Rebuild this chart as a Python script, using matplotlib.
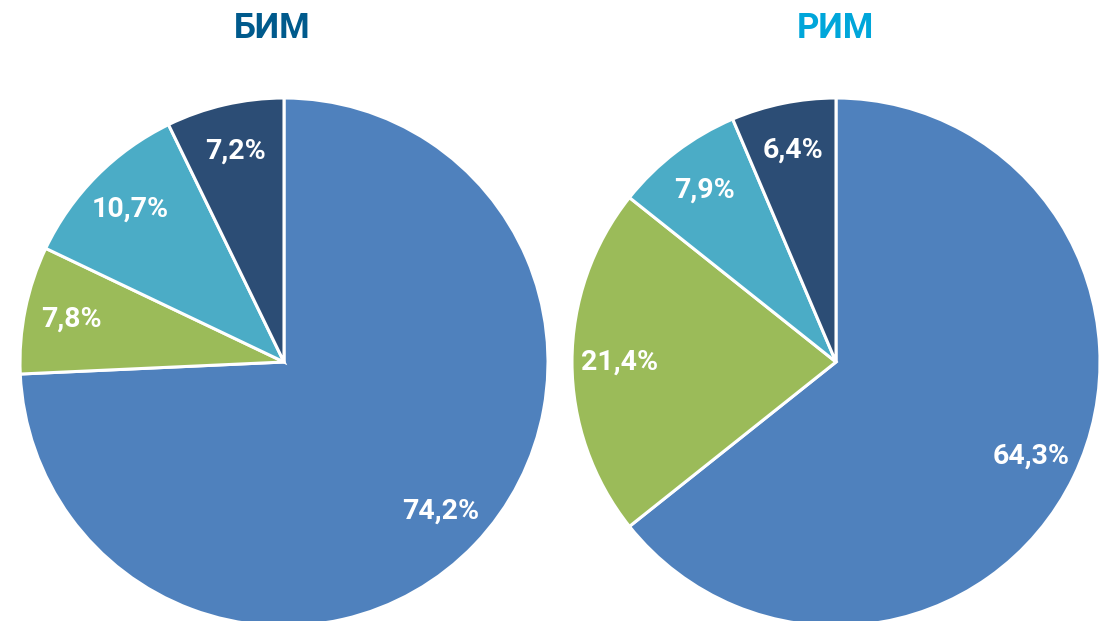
import matplotlib
matplotlib.use('Agg')
import matplotlib.pyplot as plt

# shares, clockwise from 12 o'clock
titles = ['БИМ', 'РИМ']
title_colors = ['#005A8C', '#00A6DA']
bim_values = [74.2, 7.8, 10.7, 7.2]
rim_values = [64.3, 21.4, 7.9, 6.4]
slice_colors = ['#4F81BD', '#9BBB59', '#4BACC6', '#2C4D75']

W, H = 1101, 621
fig = plt.figure(figsize=(W / 100, H / 100), dpi=100)

R = 264
centers = [(284, 362), (836, 362)]
title_x = [272, 835]

for vals, (cx, cy), t, tc, tx in zip([bim_values, rim_values], centers, titles, title_colors, title_x):
    ax = fig.add_axes([(cx - R) / W, (H - cy - R) / H, 2 * R / W, 2 * R / H])
    labels = iter(f'{v:.1f}%'.replace('.', ',') for v in vals)
    wedges, _, autotexts = ax.pie(
        vals, colors=slice_colors, startangle=90, counterclock=False,
        autopct=lambda p: next(labels), pctdistance=0.82,
        wedgeprops=dict(edgecolor='white', linewidth=2.2))
    for a in autotexts:
        a.set_color('white')
        a.set_fontsize(20.5)
        a.set_fontweight('bold')
        a.set_family('Roboto')
    ax.set_xlim(-1, 1); ax.set_ylim(-1, 1)
    ax.set_aspect('equal')
    ax.set_axis_off()
    fig.text(tx / W, 1 - 28 / H, t, color=tc, fontsize=25, fontweight='bold',
             family='Roboto', ha='center', va='center')

fig.savefig('out.png', dpi=100)
